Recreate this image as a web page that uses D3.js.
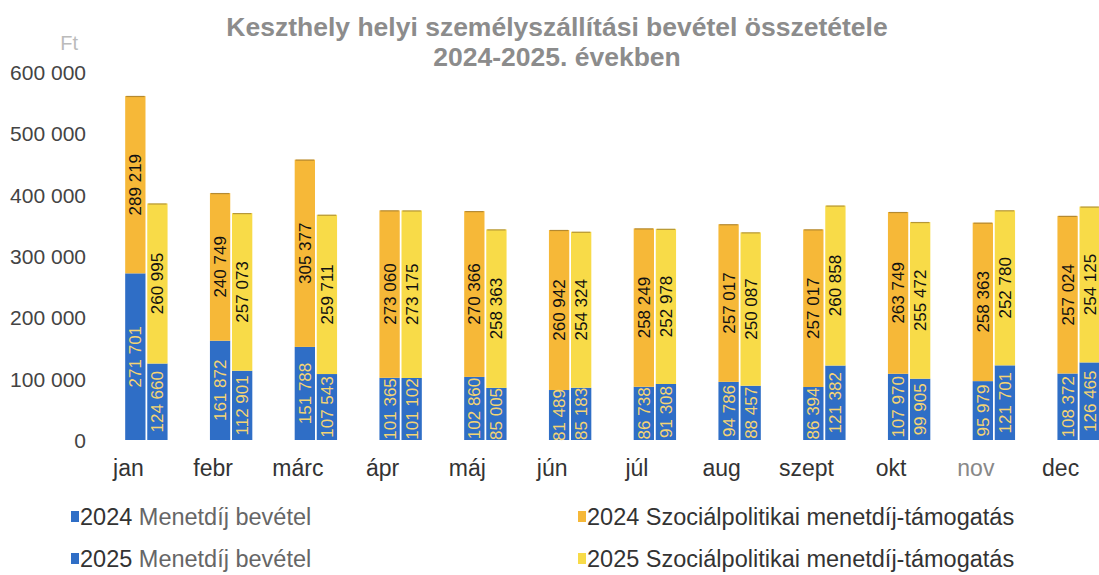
<!DOCTYPE html>
<html>
<head>
<meta charset="utf-8">
<script src="https://cdn.jsdelivr.net/npm/d3@7"></script>
<style>
  html, body { margin: 0; padding: 0; background: #fff; }
  svg { display: block; font-family: "Liberation Sans", Arial, sans-serif; }
</style>
</head>
<body>
<div class="chart_container"></div>
<script>
// adatok
const months = ['jan', 'febr', 'márc', 'ápr', 'máj', 'jún', 'júl', 'aug', 'szept', 'okt', 'nov', 'dec']
const fare2024 = [271701, 161872, 151788, 101365, 102860, 81489, 86738, 94786, 86394, 107970, 95979, 108372]
const social2024 = [289219, 240749, 305377, 273060, 270366, 260942, 258249, 257017, 257017, 263749, 258363, 257024]
const fare2025 = [124660, 112901, 107543, 101102, 85005, 85183, 91308, 88457, 121382, 99905, 121701, 126465]
const social2025 = [260995, 257073, 259711, 273175, 258363, 254324, 252978, 250087, 260858, 255472, 252780, 254125]
const yTicks = [0, 100000, 200000, 300000, 400000, 500000, 600000]
const years = ['2024', '2025']

const colors = { fare: '#2f6ec6', social2024: '#f6b838', social2025: '#f8db48' }

const svg_width = 1099
const svg_height = 575

const svg = d3.select('.chart_container').append('svg')
    .attr('width', svg_width).attr('height', svg_height)

// skálák
const xScale = d3.scaleBand().domain(months).range([104, 1121]).paddingInner(0.5).paddingOuter(0.25)
const subScale = d3.scaleBand().domain(years).range([0, xScale.bandwidth()]).paddingInner(0.08)
const yScale = d3.scaleLinear().domain([0, 600000]).range([440, 72])

const fmt = v => d3.format(',')(v).replace(/,/g, ' ')

// y tengely
const yAxis = d3.axisLeft(yScale).tickValues(yTicks).tickFormat(fmt).tickSize(0)
const yAxisDraw = svg.append('g').attr('class', 'y axis')
    .attr('transform', 'translate(86,0)')
    .call(yAxis)
yAxisDraw.select('.domain').remove()
yAxisDraw.selectAll('text')
    .attr('x', 0).attr('dy', '0.35em')
    .style('font-size', '21px').style('fill', '#444')

svg.append('text').attr('x', 78).attr('y', 50)
    .attr('text-anchor', 'end')
    .style('font-size', '20px').style('fill', '#bbb')
    .text('Ft')

// x tengely
const xAxis = d3.axisBottom(xScale).tickSize(0)
const xAxisDraw = svg.append('g').attr('class', 'x axis')
    .attr('transform', 'translate(-18,452)')
    .call(xAxis)
xAxisDraw.select('.domain').remove()
xAxisDraw.selectAll('text')
    .attr('dy', '0.9em')
    .style('font-size', '23px').style('fill', '#333')
xAxisDraw.selectAll('text').filter(d => d === 'nov').style('fill', '#888')

// oszlopok
const stacks = months.map((m, i) => ({
    month: m,
    bars: [
        { year: '2024', fare: fare2024[i], social: social2024[i], socialColor: colors.social2024 },
        { year: '2025', fare: fare2025[i], social: social2025[i], socialColor: colors.social2025 }
    ]
}))

const groups = svg.append('g').attr('class', 'bars')
    .selectAll('g').data(stacks).enter().append('g')
    .attr('transform', d => `translate(${xScale(d.month)},0)`)

const bar = groups.selectAll('g').data(d => d.bars).enter().append('g')
    .attr('transform', d => `translate(${subScale(d.year)},0)`)

const bw = subScale.bandwidth()

bar.append('rect')
    .attr('x', 0).attr('width', bw)
    .attr('y', d => yScale(d.fare)).attr('height', d => yScale(0) - yScale(d.fare))
    .style('fill', colors.fare)

bar.append('rect')
    .attr('x', 0).attr('width', bw)
    .attr('y', d => yScale(d.fare + d.social))
    .attr('height', d => yScale(d.fare) - yScale(d.fare + d.social))
    .style('fill', d => d.socialColor)

// felső szegély
bar.append('line')
    .attr('x1', 1).attr('x2', bw - 1)
    .attr('y1', d => yScale(d.fare + d.social) + 0.5)
    .attr('y2', d => yScale(d.fare + d.social) + 0.5)
    .style('stroke', '#8a6a2a').style('stroke-width', 1.2).style('opacity', 0.6)

// címkék
bar.append('text')
    .attr('transform', d => `translate(${bw / 2},${(yScale(0) + yScale(d.fare)) / 2}) rotate(-90)`)
    .attr('text-anchor', 'middle').attr('dy', '0.35em')
    .style('font-size', '17px').style('fill', '#f4d474')
    .style('font-family', '"Liberation Sans Narrow", "Liberation Sans", sans-serif')
    .text(d => fmt(d.fare))

bar.append('text')
    .attr('transform', d => `translate(${bw / 2},${(yScale(d.fare) + yScale(d.fare + d.social)) / 2}) rotate(-90)`)
    .attr('text-anchor', 'middle').attr('dy', '0.35em')
    .style('font-size', '17px').style('fill', '#111')
    .style('font-family', '"Liberation Sans Narrow", "Liberation Sans", sans-serif')
    .text(d => fmt(d.social))

// cím
const header = svg.append('text').attr('class', 'header')
    .attr('text-anchor', 'middle')
    .style('font-size', '26.5px').style('font-weight', 'bold').style('fill', '#8c8c8c')
header.append('tspan').attr('x', 557).attr('y', 36).text('Keszthely helyi személyszállítási bevétel összetétele')
header.append('tspan').attr('x', 557).attr('y', 66).text('2024-2025. években')

// jelmagyarázat
const legendItems = [
    { year: '2024', label: ' Menetdíj bevétel', color: colors.fare, x: 71, y: 517, gray: true },
    { year: '2024', label: ' Szociálpolitikai menetdíj-támogatás', color: colors.social2024, x: 578, y: 517, gray: false },
    { year: '2025', label: ' Menetdíj bevétel', color: colors.fare, x: 71, y: 559, gray: true },
    { year: '2025', label: ' Szociálpolitikai menetdíj-támogatás', color: colors.social2025, x: 578, y: 559, gray: false }
]

const legend = svg.append('g').attr('class', 'legend')
    .selectAll('g').data(legendItems).enter().append('g')
    .attr('transform', d => `translate(${d.x},${d.y})`)

legend.append('rect')
    .attr('x', 0).attr('y', -6).attr('width', 8).attr('height', 11)
    .style('fill', d => d.color)

const lt = legend.append('text')
    .attr('x', 9).attr('y', 0).attr('dy', '0.35em')
    .style('font-size', '23.5px')
lt.append('tspan').style('fill', '#333').text(d => d.year)
lt.append('tspan').style('fill', d => d.gray ? '#666' : '#333').text(d => d.label)
</script>
</body>
</html>
